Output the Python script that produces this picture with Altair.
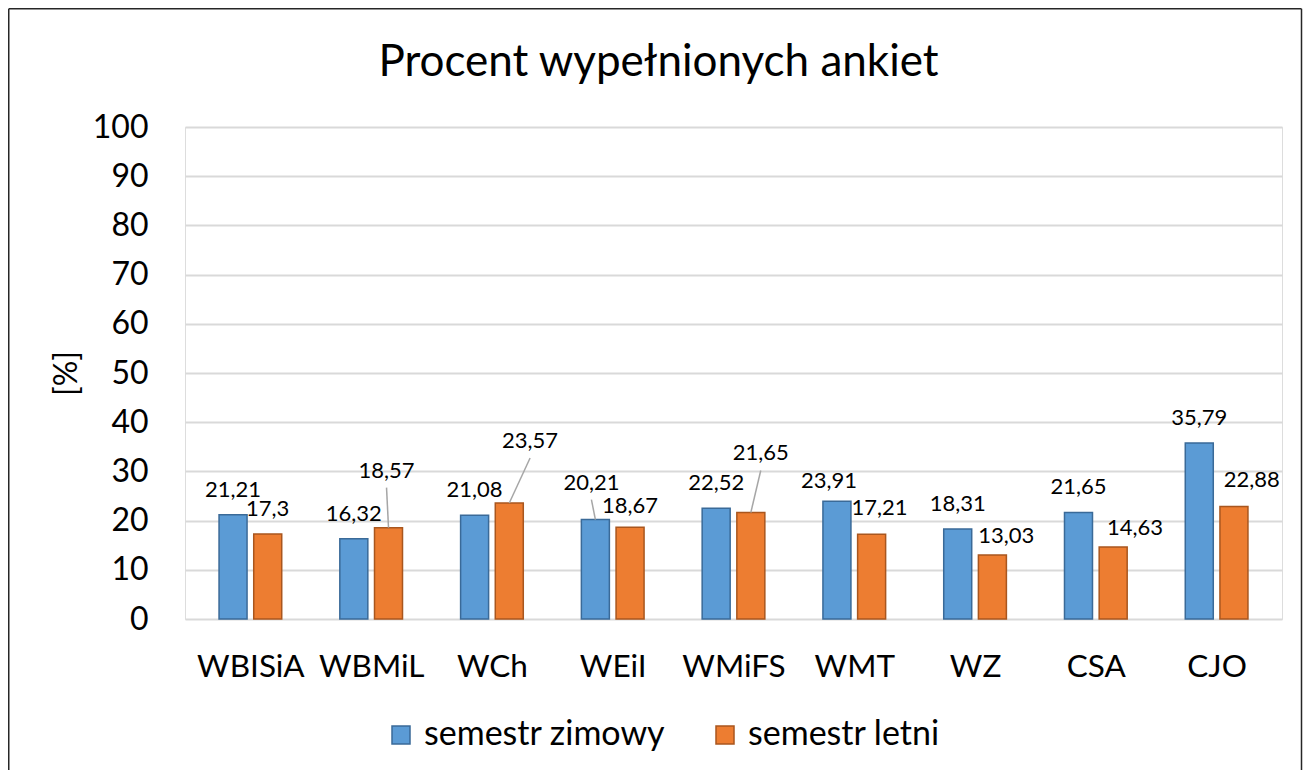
import altair as alt
import pandas as pd

# ---------------- data ----------------
categories = ["WBISiA", "WBMiL", "WCh", "WEiI", "WMiFS", "WMT", "WZ", "CSA", "CJO"]
series_names = ["semestr zimowy", "semestr letni"]
winter = [21.21, 16.32, 21.08, 20.21, 22.52, 23.91, 18.31, 21.65, 35.79]
summer = [17.3, 18.57, 23.57, 18.67, 21.65, 17.21, 13.03, 14.63, 22.88]
y_ticks = [0, 10, 20, 30, 40, 50, 60, 70, 80, 90, 100]
title_text = "Procent wypełnionych ankiet"
y_title = "[%]"

# ---------------- style ----------------
FONT = "Lato"
W, H = 1097, 492
PAD = {"left": 177, "top": 119, "right": 21, "bottom": 151}
PX_CAT = W / len(categories)
PX_UNIT = H / 100.0
BAR_SHIFT = 17.5      # px from category centre
BAR_SIZE = 28
BLUE, ORANGE = "#5B9BD5", "#ED7D31"
BLUE_EDGE, ORANGE_EDGE = "#3A6A98", "#A9561E"
DEFAULT_LIFT = 18     # px, label baseline above bar top
# manual label placement (dx px, lift px, leader line)
NUDGE = {
    ("WBMiL", "semestr letni"): (-2, 50, True),
    ("WCh", "semestr letni"): (21, 55, True),
    ("WEiI", "semestr zimowy"): (-4, 30, True),
    ("WEiI", "semestr letni"): (0, 14, False),
    ("WMiFS", "semestr letni"): (10, 52, True),
    ("WMT", "semestr zimowy"): (-8, 13, False),
    ("WMT", "semestr letni"): (8, 19, False),
    ("WZ", "semestr letni"): (14, 12, False),
    ("CSA", "semestr letni"): (22, 12, False),
    ("CJO", "semestr letni"): (18, 19, False),
}

rows = []
for i, cat in enumerate(categories):
    for s, vals, sign in ((series_names[0], winter, -1), (series_names[1], summer, 1)):
        v = vals[i]
        pos = i + sign * BAR_SHIFT / PX_CAT
        dx, lift, leader = NUDGE.get((cat, s), (0, DEFAULT_LIFT, False))
        lx = pos + dx / PX_CAT
        ly = v + lift / PX_UNIT
        rows.append({
            "cat": cat, "series": s, "value": v, "pos": pos,
            "label": f"{v:g}".replace(".", ","),
            "lx": lx, "ly": ly, "leader": leader,
            "l_y1": ly - 10 / PX_UNIT,
        })
df = pd.DataFrame(rows)
df_lead = df[df["leader"]].copy()

x_scale = alt.Scale(domain=[-0.5, len(categories) - 0.5], nice=False, zero=False)
y_scale = alt.Scale(domain=[0, 100], nice=False, zero=True)

label_expr = "[" + ",".join(f"'{c}'" for c in categories) + "][datum.value]"

x_axis = alt.Axis(
    values=list(range(len(categories))), labelExpr=label_expr, title=None,
    grid=False, domain=False, ticks=False, tickSize=0,
    labelFont=FONT, labelFontSize=31.5, labelColor="#000000", labelPadding=32,
    labelFlush=False,
)
y_axis = alt.Axis(
    values=y_ticks, title=y_title, grid=True, gridColor="#D9D9D9", gridWidth=2,
    domain=False, ticks=False, tickSize=0,
    labelFont=FONT, labelFontSize=32, labelColor="#000000", labelPadding=37,
    titleFont=FONT, titleFontSize=32, titleFontWeight="normal", titleColor="#000000",
    titleAngle=270, titleX=-119, titleY=246, titleAlign="center", titleBaseline="middle",
)

legend = alt.Legend(
    title=None, orient="none", legendX=199, legendY=591, direction="horizontal",
    symbolType="square", symbolSize=324, symbolStrokeWidth=1.5,
    labelFont=FONT, labelFontSize=34, labelColor="#000000", labelOffset=6,
    labelLimit=500, columnPadding=42,
)

base = alt.Chart(df)

bars = base.mark_bar(size=BAR_SIZE, strokeWidth=1.5).encode(
    x=alt.X("pos:Q", scale=x_scale, axis=x_axis),
    y=alt.Y("value:Q", scale=y_scale, axis=y_axis),
    color=alt.Color("series:N", scale=alt.Scale(domain=series_names, range=[BLUE, ORANGE]),
                    legend=legend, sort=series_names),
    stroke=alt.Stroke("series:N", scale=alt.Scale(domain=series_names, range=[BLUE_EDGE, ORANGE_EDGE]),
                      legend=legend, sort=series_names),
)

leaders = alt.Chart(df_lead).mark_rule(color="#A6A6A6", strokeWidth=1.5).encode(
    x=alt.X("lx:Q", scale=x_scale),
    y=alt.Y("l_y1:Q", scale=y_scale),
    x2="pos:Q",
    y2="value:Q",
)

labels = base.mark_text(font=FONT, fontSize=22, color="#000000", align="center",
                        baseline="alphabetic").encode(
    x=alt.X("lx:Q", scale=x_scale),
    y=alt.Y("ly:Q", scale=y_scale),
    text="label:N",
)

# chart-area frame (decoration): left, top and right edges
one = pd.DataFrame({"k": [0]})
FR_L, FR_R, FR_T, FR_B = -176.25, 1116.5, -118.25, 700
frame_style = dict(color="#262626", strokeWidth=1.5)
frame_left = alt.Chart(one).mark_rule(**frame_style).encode(
    x=alt.value(FR_L), y=alt.value(FR_T), y2=alt.value(FR_B))
frame_right = alt.Chart(one).mark_rule(**frame_style).encode(
    x=alt.value(FR_R), y=alt.value(FR_T), y2=alt.value(FR_B))
frame_top = alt.Chart(one).mark_rule(**frame_style).encode(
    x=alt.value(FR_L), x2=alt.value(FR_R), y=alt.value(FR_T))

chart = alt.layer(frame_left, frame_right, frame_top, bars, leaders, labels).properties(
    width=W, height=H,
    padding=PAD,
    autosize=alt.AutoSizeParams(type="none"),
    title=alt.TitleParams(
        text=title_text, font=FONT, fontSize=44, fontWeight="normal", color="#000000",
        anchor="middle", frame="group", dx=-75, offset=-112, baseline="alphabetic",
    ),
).configure_view(
    stroke="transparent", strokeWidth=0
).configure(background="#FFFFFF")

chart.save("out.html", embed_options={"renderer": "svg", "actions": False})
